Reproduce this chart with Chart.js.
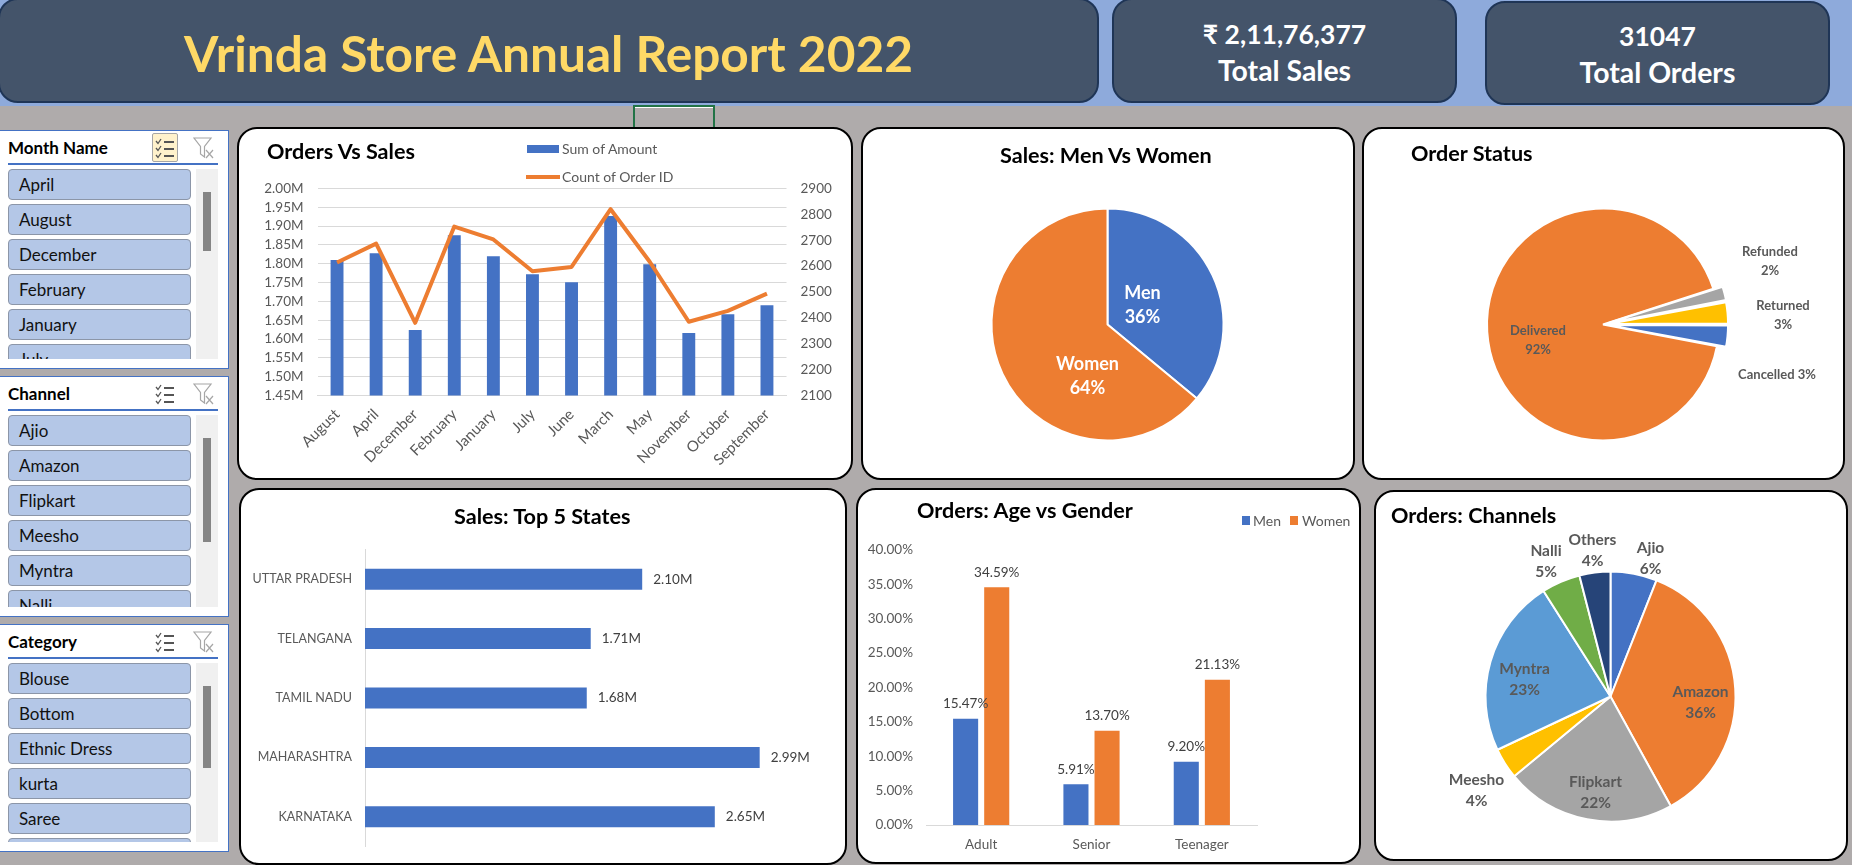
<!DOCTYPE html>
<html>
<head>
<meta charset="utf-8">
<title>Vrinda Store Annual Report 2022</title>
<script src="https://cdn.jsdelivr.net/npm/chart.js@4"></script>
<style>
    html, body { margin: 0; padding: 0; width: 1852px; height: 865px; overflow: hidden; background: #AFABAB; font-family: Lato, sans-serif; }
    .band { position: absolute; left: 0; top: 0; width: 1852px; height: 106px; background: #8EAADB; }
    .kpi { position: absolute; box-sizing: border-box; background: #44546A; border: 2px solid #1F3556; border-radius: 20px; color: #fff; font-weight: 700; text-align: center; }
    .kpi div { position: absolute; left: 0; right: 0; white-space: nowrap; transform: translateY(-50%); }
    .cell { position: absolute; left: 633px; top: 105px; width: 82px; height: 22px; box-sizing: border-box; border: 2px solid #217346; border-bottom: 0; box-shadow: inset 0 1px 0 #fff; }
    .card { position: absolute; box-sizing: border-box; background: #fff; border: 2.5px solid #000; border-radius: 20px; }
    canvas { position: absolute; left: 0; top: 0; }
    .title { position: absolute; font-size: 21.6px; font-weight: 700; color: #000; white-space: nowrap; transform: translateY(-50%); }
    .legend { position: absolute; font-size: 14px; color: #595959; white-space: nowrap; transform: translateY(-50%); }
    .swatch { position: absolute; }
    .slicer { position: absolute; left: -1px; width: 230px; box-sizing: border-box; background: #fff; border: 1.5px solid #4472C4; }
    .slicer h4 { position: absolute; left: 8px; top: 5.5px; margin: 0; font-size: 17px; line-height: 22px; color: #000; }
    .slicer .rule { position: absolute; left: 8px; width: 210px; top: 32px; height: 1.5px; background: #4472C4; }
    .slicer .list { position: absolute; left: 8px; top: 38px; width: 183px; overflow: hidden; }
    .slicer .item { box-sizing: border-box; height: 31px; margin-bottom: 4px; background: #B4C7E7; border: 1.5px solid #8C96A8; border-radius: 4px; font-size: 17px; line-height: 29px; padding-left: 10px; color: #111; }
    .slicer .track { position: absolute; left: 196px; top: 38px; width: 22px; background: #F0F0F0; }
    .slicer .thumb { position: absolute; left: 7px; width: 8px; background: #858585; }
    .slicer svg { position: absolute; }
    .slicer .on { position: absolute; left: 152px; top: 2px; width: 26px; height: 29px; box-sizing: border-box; background: #FFF2CC; border: 1px solid #A6A6A6; border-radius: 2px; }
</style>
</head>
<body>
<div class="band"></div>

<div class="kpi" style="left:-2px;top:-2px;width:1101px;height:105px;">
    <div style="top:53px;font-size:49.6px;color:#FFD966;">Vrinda Store Annual Report 2022</div>
</div>
<div class="kpi" style="left:1112px;top:-2px;width:345px;height:105px;">
    <div style="top:33.5px;font-size:26.5px;">₹ 2,11,76,377</div>
    <div style="top:69.5px;font-size:28.4px;">Total Sales</div>
</div>
<div class="kpi" style="left:1485px;top:1px;width:345px;height:104px;">
    <div style="top:32.5px;font-size:26.5px;">31047</div>
    <div style="top:68.5px;font-size:28.4px;">Total Orders</div>
</div>
<div class="cell"></div>

<div id="slicers"></div>

<div class="card" style="left:237px;top:127px;width:616px;height:353px;"><canvas id="ordersSalesChart" width="611" height="348"></canvas></div>
<div class="card" style="left:861px;top:127px;width:494px;height:353px;"><canvas id="genderChart" width="489" height="348"></canvas></div>
<div class="card" style="left:1362px;top:127px;width:483px;height:353px;"><canvas id="statusChart" width="478" height="348"></canvas></div>
<div class="card" style="left:239px;top:488px;width:608px;height:377px;"><canvas id="statesChart" width="603" height="377"></canvas></div>
<div class="card" style="left:856px;top:488px;width:505px;height:376px;"><canvas id="ageChart" width="500" height="371"></canvas></div>
<div class="card" style="left:1374px;top:490px;width:474px;height:371px;"><canvas id="channelChart" width="469" height="366"></canvas></div>

<div class="title" style="left:267px;top:151px;">Orders Vs Sales</div>
<div class="title" style="left:1000px;top:155px;">Sales: Men Vs Women</div>
<div class="title" style="left:1411px;top:152.5px;">Order Status</div>
<div class="title" style="left:454px;top:515.5px;">Sales: Top 5 States</div>
<div class="title" style="left:917px;top:510px;">Orders: Age vs Gender</div>
<div class="title" style="left:1391px;top:514.5px;">Orders: Channels</div>

<div class="swatch" style="left:527px;top:145px;width:32px;height:8px;background:#4472C4;"></div>
<div class="legend" style="left:562px;top:148px;">Sum of Amount</div>
<div class="swatch" style="left:526px;top:175px;width:34px;height:4px;background:#ED7D31;"></div>
<div class="legend" style="left:562px;top:176px;">Count of Order ID</div>
<div class="swatch" style="left:1242px;top:516px;width:8px;height:9px;background:#4472C4;"></div>
<div class="legend" style="left:1253px;top:520px;">Men</div>
<div class="swatch" style="left:1290px;top:516px;width:8px;height:9px;background:#ED7D31;"></div>
<div class="legend" style="left:1302px;top:520px;">Women</div>

<script>
    /* ================= DATA ================= */

    const monthNames = ["August", "April", "December", "February", "January", "July", "June", "March", "May", "November", "October", "September"];
    const monthAmount = [1810000, 1828000, 1624000, 1876000, 1820000, 1772000, 1751000, 1927000, 1799000, 1616000, 1666000, 1690000];
    const monthOrders = [2614, 2687, 2381, 2753, 2703, 2580, 2597, 2820, 2617, 2385, 2427, 2494];

    const genderNames = ["Men", "Women"];
    const genderShare = [36, 64];

    const statusNames = ["Cancelled", "Delivered", "Refunded", "Returned"];
    const statusShare = [3, 92, 2, 3];

    const stateNames = ["UTTAR PRADESH", "TELANGANA", "TAMIL NADU", "MAHARASHTRA", "KARNATAKA"];
    const stateSales = [2100000, 1710000, 1680000, 2990000, 2650000];

    const ageGroups = ["Adult", "Senior", "Teenager"];
    const ageMen = [15.47, 5.91, 9.20];
    const ageWomen = [34.59, 13.70, 21.13];

    const channelNames = ["Ajio", "Amazon", "Flipkart", "Meesho", "Myntra", "Nalli", "Others"];
    const channelShare = [6, 36, 22, 4, 23, 5, 4];

    const monthSlicer = ["April", "August", "December", "February", "January", "July"];
    const channelSlicer = ["Ajio", "Amazon", "Flipkart", "Meesho", "Myntra", "Nalli"];
    const categorySlicer = ["Blouse", "Bottom", "Ethnic Dress", "kurta", "Saree", ""];

    /* ================= STYLE ================= */

    const BLUE = "#4472C4";
    const ORANGE = "#ED7D31";
    const GREY_TEXT = "#595959";
    const GRID = "#D9D9D9";
    const channelColors = [BLUE, ORANGE, "#A5A5A5", "#FFC000", "#5B9BD5", "#70AD47", "#264478"];

    Chart.defaults.font.family = "Lato, sans-serif";
    Chart.defaults.font.size = 13.5;
    Chart.defaults.color = GREY_TEXT;
    Chart.defaults.animation = false;
    Chart.defaults.responsive = false;
    Chart.defaults.plugins.legend.display = false;
    Chart.defaults.plugins.tooltip.enabled = false;

    /* ================= SLICERS ================= */

    const checkIcon = (x, y) => `
        <svg style="left:${x}px;top:${y}px" width="20" height="22" viewBox="0 0 20 22" fill="none" stroke="#555" stroke-width="1.3">
            <path d="M1 3l2 2.5L6 1M1 10l2 2.5L6 8M1 17l2 2.5L6 15"/>
            <path d="M9 4h10M9 11h10M9 18h10" stroke-width="2"/>
        </svg>`;
    const clearIcon = (x, y) => `
        <svg style="left:${x}px;top:${y}px" width="21" height="22" viewBox="0 0 21 22" fill="none" stroke="#A6A6A6" stroke-width="1.2">
            <path d="M1 1h17l-6.5 8.5V20l-4-3V9.5z"/>
            <path d="M13 13l7 8M20 13l-7 8"/>
        </svg>`;

    function addSlicer(name, items, top, height, thumbTop, thumbHeight, active) {
        const box = document.createElement("div");
        box.className = "slicer";
        box.style.top = top + "px";
        box.style.height = height + "px";
        const listHeight = height - 49;
        box.innerHTML = `
            <h4>${name}</h4>
            ${active ? '<div class="on"></div>' : ""}
            ${checkIcon(155, 7)}
            ${clearIcon(193, 6)}
            <div class="rule"></div>
            <div class="list" style="height:${listHeight}px">
                ${items.map(i => `<div class="item">${i}</div>`).join("")}
            </div>
            <div class="track" style="height:${listHeight}px">
                <div class="thumb" style="top:${thumbTop}px;height:${thumbHeight}px"></div>
            </div>`;
        document.getElementById("slicers").appendChild(box);
    }

    addSlicer("Month Name", monthSlicer, 130, 239, 23, 59, true);
    addSlicer("Channel", channelSlicer, 376, 241, 23, 104, false);
    addSlicer("Category", categorySlicer, 624, 228, 23, 82, false);

    /* ================= LABEL PLUGINS ================= */

    // slice labels sit where the reference has them, as offsets from the pie centre
    function sliceLabels(spots, font, color, lineGap) {
        return {
            id: "sliceLabels",
            afterDatasetsDraw(chart) {
                const ctx = chart.ctx;
                const arcs = chart.getDatasetMeta(0).data;
                const names = chart.data.labels;
                const values = chart.data.datasets[0].data;
                ctx.save();
                ctx.font = font;
                ctx.fillStyle = color;
                ctx.textAlign = "center";
                ctx.textBaseline = "middle";
                arcs.forEach((arc, i) => {
                    const [dx, dy, oneLine] = spots[i];
                    const x = arc.x + dx;
                    const y = arc.y + dy;
                    if (oneLine) {
                        ctx.fillText(`${names[i]} ${values[i]}%`, x, y);
                    } else {
                        ctx.fillText(names[i], x, y - lineGap / 2);
                        ctx.fillText(`${values[i]}%`, x, y + lineGap / 2);
                    }
                });
                ctx.restore();
            }
        };
    }

    // value labels at the end of each bar
    function barLabels(format, horizontal) {
        return {
            id: "barLabels",
            afterDatasetsDraw(chart) {
                const ctx = chart.ctx;
                ctx.save();
                ctx.font = "13.5px Lato, sans-serif";
                ctx.fillStyle = "#404040";
                chart.data.datasets.forEach((set, d) => {
                    chart.getDatasetMeta(d).data.forEach((bar, i) => {
                        if (horizontal) {
                            ctx.textAlign = "left";
                            ctx.textBaseline = "middle";
                            ctx.fillText(format(set.data[i]), bar.x + 11, bar.y);
                        } else {
                            ctx.textAlign = "center";
                            ctx.textBaseline = "bottom";
                            ctx.fillText(format(set.data[i]), bar.x, bar.y - 8);
                        }
                    });
                });
                ctx.restore();
            }
        };
    }

    /* ================= CHARTS ================= */

    new Chart(document.getElementById("ordersSalesChart"), {
        type: "bar",
        data: {
            labels: monthNames,
            datasets: [
                {
                    type: "line",
                    label: "Count of Order ID",
                    data: monthOrders,
                    yAxisID: "orders",
                    borderColor: ORANGE,
                    borderWidth: 4,
                    pointRadius: 0,
                    tension: 0,
                    borderJoinStyle: "round",
                    order: 0
                },
                {
                    label: "Sum of Amount",
                    data: monthAmount,
                    yAxisID: "amount",
                    backgroundColor: BLUE,
                    barPercentage: 1,
                    categoryPercentage: 0.33,
                    order: 1
                }
            ]
        },
        options: {
            layout: { padding: { left: 12.5, right: 13.5, top: 59.5, bottom: 1.5 } },
            scales: {
                x: {
                    grid: { display: false },
                    border: { color: GRID },
                    ticks: { autoSkip: false, minRotation: 45, maxRotation: 45, padding: 2, font: { size: 15 } },
                    afterFit: s => { s.height = 80; }
                },
                amount: {
                    position: "left",
                    min: 1450000,
                    max: 2000000,
                    grid: { color: GRID, drawTicks: false },
                    border: { display: false },
                    ticks: { autoSkip: false, stepSize: 50000, padding: 14, callback: v => (v / 1e6).toFixed(2) + "M" },
                    afterFit: s => { s.width = 66; }
                },
                orders: {
                    position: "right",
                    min: 2100,
                    max: 2900,
                    grid: { display: false, drawTicks: false },
                    border: { display: false },
                    ticks: { autoSkip: false, stepSize: 100, padding: 14, callback: v => String(v) },
                    afterFit: s => { s.width = 50; }
                }
            }
        }
    });

    new Chart(document.getElementById("genderChart"), {
        type: "pie",
        data: {
            labels: genderNames,
            datasets: [{
                data: genderShare,
                backgroundColor: [BLUE, ORANGE],
                borderColor: "#fff",
                borderWidth: 2
            }]
        },
        options: {
            radius: 116,
            layout: { padding: { left: 0, right: 0, top: 43, bottom: 0 } }
        },
        plugins: [sliceLabels([[35, -19], [-20, 52]], "bold 18px Lato, sans-serif", "#fff", 24)]
    });

    new Chart(document.getElementById("statusChart"), {
        type: "pie",
        data: {
            labels: statusNames,
            datasets: [{
                data: statusShare,
                backgroundColor: [BLUE, ORANGE, "#A5A5A5", "#FFC000"],
                borderColor: "#fff",
                borderWidth: 2,
                offset: [20, 0, 20, 20]
            }]
        },
        options: {
            radius: 116,
            rotation: 90,
            layout: { padding: { left: 0, right: 0, top: 43, bottom: 0 } }
        },
        plugins: [sliceLabels(
            [[174, 50, true], [-65, 16], [167, -63], [180, -9]],
            "bold 13px Lato, sans-serif", GREY_TEXT, 19
        )]
    });

    // canvas runs past the card bottom: the y axis keeps tick padding + half a label free below the plot
    new Chart(document.getElementById("statesChart"), {
        type: "bar",
        data: {
            labels: stateNames,
            datasets: [{
                data: stateSales,
                backgroundColor: BLUE,
                barPercentage: 1,
                categoryPercentage: 0.354
            }]
        },
        options: {
            indexAxis: "y",
            layout: { padding: { left: 0, right: 17, top: 59.5, bottom: 0 } },
            scales: {
                x: {
                    display: false,
                    min: 0,
                    max: 3500000
                },
                y: {
                    grid: { display: false, drawTicks: false },
                    border: { color: GRID },
                    ticks: { padding: 13, color: GREY_TEXT, font: { size: 12.5 } },
                    afterFit: s => { s.width = 124; }
                }
            }
        },
        plugins: [barLabels(v => (v / 1e6).toFixed(2) + "M", true)]
    });

    new Chart(document.getElementById("ageChart"), {
        type: "bar",
        data: {
            labels: ageGroups,
            datasets: [
                { label: "Men", data: ageMen, backgroundColor: BLUE, barPercentage: 0.806, categoryPercentage: 0.564 },
                { label: "Women", data: ageWomen, backgroundColor: ORANGE, barPercentage: 0.806, categoryPercentage: 0.564 }
            ]
        },
        options: {
            layout: { padding: { left: 10, right: 101, top: 60, bottom: 0 } },
            scales: {
                x: {
                    grid: { display: false, drawTicks: false },
                    border: { color: GRID },
                    ticks: { padding: 12 },
                    afterFit: s => { s.height = 36; }
                },
                y: {
                    min: 0,
                    max: 40,
                    grid: { display: false, drawTicks: false },
                    border: { display: false },
                    ticks: { stepSize: 5, padding: 13, callback: v => v.toFixed(2) + "%" },
                    afterFit: s => { s.width = 58; }
                }
            }
        },
        plugins: [barLabels(v => v.toFixed(2) + "%", false)]
    });

    new Chart(document.getElementById("channelChart"), {
        type: "pie",
        data: {
            labels: channelNames,
            datasets: [{
                data: channelShare,
                backgroundColor: channelColors,
                borderColor: "#fff",
                borderWidth: 2
            }]
        },
        options: {
            radius: 125,
            layout: { padding: { left: 0, right: 0, top: 43, bottom: 0 } }
        },
        plugins: [sliceLabels(
            [[40, -138], [90, 6], [-15, 96], [-134, 94], [-86, -17], [-64.5, -135], [-18, -146]],
            "bold 15.5px Lato, sans-serif", GREY_TEXT, 21
        )]
    });
</script>
</body>
</html>
